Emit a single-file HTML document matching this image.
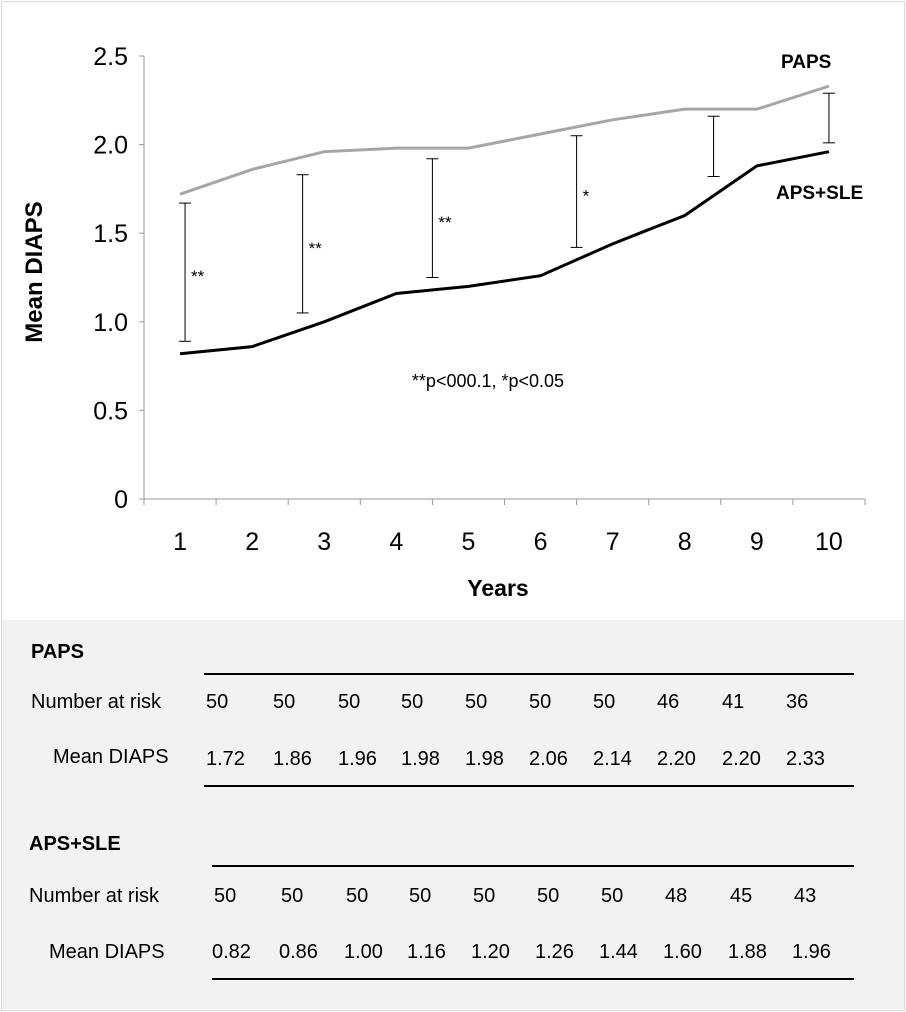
<!DOCTYPE html>
<html><head><meta charset="utf-8"><style>
body{margin:0;width:906px;height:1012px;background:#fff;font-family:"Liberation Sans",sans-serif;overflow:hidden}
#frame{position:absolute;left:1px;top:1px;width:902px;height:1008px;border:1px solid #d9d9d9}
#tbl{position:absolute;left:2px;top:620px;width:902px;height:389px;background:#f2f2f2}
.t{position:absolute;font-size:20px;color:#000;white-space:nowrap}
.b{font-weight:bold}
.hl{position:absolute;height:2px;background:#000}
</style></head><body>
<div id="frame"></div>
<svg id="chart" width="906" height="620" style="position:absolute;left:0;top:0"></svg>
<div id="tbl"></div>
<script>
const years=[1,2,3,4,5,6,7,8,9,10];
const paps=[1.72,1.86,1.96,1.98,1.98,2.06,2.14,2.20,2.20,2.33];
const apsSle=[0.82,0.86,1.00,1.16,1.20,1.26,1.44,1.60,1.88,1.96];
const papsRisk=[50,50,50,50,50,50,50,46,41,36];
const apsRisk=[50,50,50,50,50,50,50,48,45,43];
const yTicks=[0,0.5,1.0,1.5,2.0,2.5];
const yTickLabels=["0","0.5","1.0","1.5","2.0","2.5"];
const errYear=[1,2.7,4.5,6.5,8.4,10];
const errLow=[0.89,1.05,1.25,1.42,1.82,2.01];
const errHigh=[1.67,1.83,1.92,2.05,2.16,2.29];
const errSig=["**","**","**","*","",""];
const NS="http://www.w3.org/2000/svg";
const svg=document.getElementById('chart');
const X0=144,X1=865,Y0=499,Y25=56;
const xs=v=>X0+(X1-X0)/10*(v-0.5);
const ys=v=>Y0-(Y0-Y25)*v/2.5;
function mk(tag,a,p){const e=document.createElementNS(NS,tag);for(const k in a)e.setAttribute(k,a[k]);(p||svg).appendChild(e);return e;}
let e;
e=mk('line',{x1:X0,y1:Y25,x2:X0,y2:Y0,stroke:'#999','stroke-width':1});


e=mk('line',{x1:X0,y1:Y0,x2:X1,y2:Y0,stroke:'#999','stroke-width':1});


yTicks.forEach((v,i)=>{
 mk('line',{x1:X0-5,y1:ys(v),x2:X0,y2:ys(v),stroke:'#999'});
 e=mk('text',{x:X0-16,y:ys(v)+9,'text-anchor':'end','font-size':25,fill:'#000'});
 e.textContent=yTickLabels[i];
 
 
});
for(let i=0;i<=10;i++)mk('line',{x1:X0+(X1-X0)/10*i,y1:Y0,x2:X0+(X1-X0)/10*i,y2:Y0+6,stroke:'#999'});
years.forEach(v=>{
 e=mk('text',{x:xs(v),y:550,'text-anchor':'middle','font-size':25,fill:'#000'});
 e.textContent=v;
 
 
});
e=mk('text',{x:498,y:596,'text-anchor':'middle','font-size':23,'font-weight':'bold'});e.textContent='Years';


e=mk('text',{x:0,y:0,'text-anchor':'middle','font-size':24,'font-weight':'bold',transform:'translate(42,272) rotate(-90)'});e.textContent='Mean DIAPS';


e=mk('polyline',{points:years.map((v,i)=>xs(v)+','+ys(paps[i])).join(' '),fill:'none',stroke:'#a6a6a6','stroke-width':3});


e=mk('polyline',{points:years.map((v,i)=>xs(v)+','+ys(apsSle[i])).join(' '),fill:'none',stroke:'#000','stroke-width':3});


errYear.forEach((v,i)=>{
 const x=xs(v)+(i==0?5:0);
 const g=mk('g',{});
 
 
 mk('line',{x1:x,y1:ys(errLow[i]),x2:x,y2:ys(errHigh[i]),stroke:'#000','stroke-width':1},g);
 mk('line',{x1:x-6,y1:ys(errLow[i]),x2:x+6,y2:ys(errLow[i]),stroke:'#000','stroke-width':1},g);
 mk('line',{x1:x-6,y1:ys(errHigh[i]),x2:x+6,y2:ys(errHigh[i]),stroke:'#000','stroke-width':1},g);
 if(errSig[i]){const t=mk('text',{x:x+6,y:ys((errLow[i]+errHigh[i])/2)+10,'font-size':17},g);t.textContent=errSig[i];}
});
e=mk('text',{x:488,y:387,'text-anchor':'middle','font-size':18});e.textContent='**p<000.1, *p<0.05';


e=mk('text',{x:781,y:68,'font-size':19,'font-weight':'bold'});e.textContent='PAPS';


e=mk('text',{x:776,y:199,'font-size':19,'font-weight':'bold'});e.textContent='APS+SLE';



const colX=[206,273,338,401,465,529,593,657,722,786];
const tbl=document.body;
function txt(s,x,y,cls,name){const d=document.createElement('div');d.className='t '+(cls||'');d.style.left=x+'px';d.style.top=(y-12)+'px';d.textContent=s;
 
 
 tbl.appendChild(d);}
function hl(x,y,w){const d=document.createElement('div');d.className='hl';d.style.left=x+'px';d.style.top=y+'px';d.style.width=w+'px';
 
 
 tbl.appendChild(d);}
txt('PAPS',31,653,'b','paps-table-header');
hl(204,673,650);
txt('Number at risk',31,703,'','number-at-risk-label');
papsRisk.forEach((v,i)=>txt(String(v),colX[i],703,'','paps-risk-value'));
txt('Mean DIAPS',53,758,'','mean-diaps-label');
paps.forEach((v,i)=>txt(v.toFixed(2),colX[i],760,'','paps-mean-value'));
hl(204,785,650);
txt('APS+SLE',29,845,'b','aps-sle-table-header');
hl(212,865,642);
txt('Number at risk',29,897,'','number-at-risk-label');
apsRisk.forEach((v,i)=>txt(String(v),colX[i]+8,897,'','aps-risk-value'));
txt('Mean DIAPS',49,953,'','mean-diaps-label');
apsSle.forEach((v,i)=>txt(v.toFixed(2),colX[i]+6,953,'','aps-mean-value'));
hl(212,978,642);
</script>
</body></html>
